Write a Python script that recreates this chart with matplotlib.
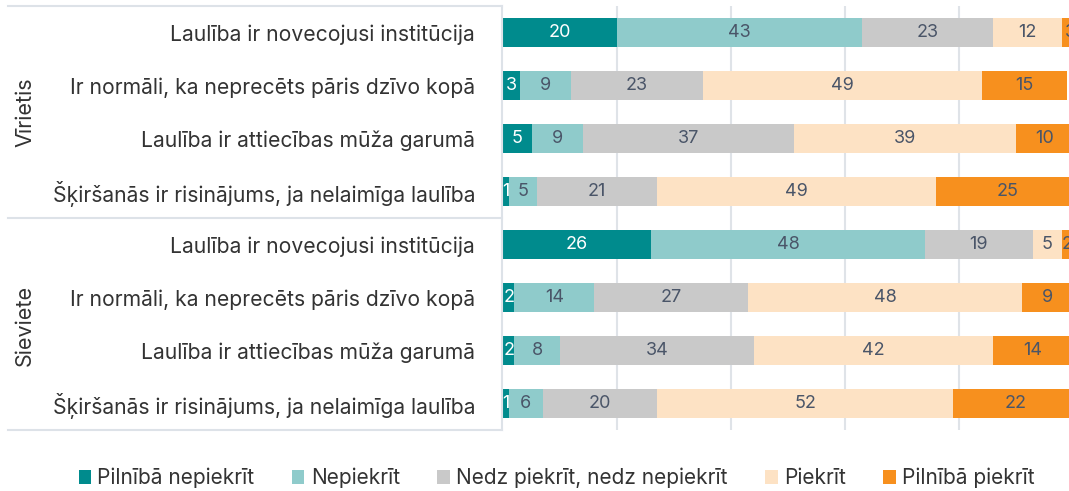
import matplotlib
matplotlib.use("Agg")
import matplotlib.pyplot as plt
from matplotlib.lines import Line2D
from matplotlib.patches import Patch
import numpy as np

plt.rcParams["font.family"] = ["Inter", "DejaVu Sans"]

statements = [
    "Laulība ir novecojusi institūcija",
    "Ir normāli, ka neprecēts pāris dzīvo kopā",
    "Laulība ir attiecības mūža garumā",
    "Šķiršanās ir risinājums, ja nelaimīga laulība",
]
groups = ["Vīrietis", "Sieviete"]
answers = ["Pilnībā nepiekrīt", "Nepiekrīt", "Nedz piekrīt, nedz nepiekrīt",
           "Piekrīt", "Pilnībā piekrīt"]

# rows: Vīrietis x4, then Sieviete x4
pilniba_nepiekrit = [20, 3, 5, 1, 26, 2, 2, 1]
nepiekrit = [43, 9, 9, 5, 48, 14, 8, 6]
nedz = [23, 23, 37, 21, 19, 27, 34, 20]
piekrit = [12, 49, 39, 49, 5, 48, 42, 52]
pilniba_piekrit = [3, 15, 10, 25, 2, 9, 14, 22]

series = [pilniba_nepiekrit, nepiekrit, nedz, piekrit, pilniba_piekrit]
colors = ["#008b8d", "#8fcbcb", "#c9c9c9", "#fde2c4", "#f7901e"]
text_colors = ["white", "#4a5568", "#4a5568", "#4a5568", "#4a5568"]

W, H = 1069, 491
fig = plt.figure(figsize=(W / 100, H / 100), dpi=100)
ax = fig.add_axes([503 / W, (H - 430) / H, 570 / W, 424 / H])

labels = statements * 2
y = np.arange(len(labels))
left = np.zeros(len(labels))
for vals, c, tc, name in zip(series, colors, text_colors, answers):
    vals = np.array(vals, dtype=float)
    ax.barh(y, vals, left=left, height=0.55, color=c, label=name, zorder=2)
    for yi, l, v in zip(y, left, vals):
        ax.text(l + v / 2, yi, f"{v:.0f}", ha="center", va="center",
                color=tc, fontsize=13, zorder=3, clip_on=True)
    left += vals

ax.set_xlim(0, 100)
ax.set_ylim(len(labels) - 0.5, -0.5)
ax.set_xticks([20, 40, 60, 80])
ax.set_xticklabels([])
ax.grid(axis="x", color="#dfe3e8", lw=1.5, zorder=0)
ax.tick_params(length=0)
ax.set_yticks(y)
ax.set_yticklabels(labels, fontsize=15.2, color="#333333")
ax.tick_params(axis="y", pad=20)
for s in ax.spines.values():
    s.set_visible(False)

# group box lines
lc = "#dde2e8"
def fx(px):
    return px / W
def fy(py):
    return (H - py) / H
for py in [6, 218, 430]:
    fig.add_artist(Line2D([fx(8), fx(502)], [fy(py), fy(py)], color=lc, lw=1.5))
fig.add_artist(Line2D([fx(502), fx(502)], [fy(6), fy(430)], color=lc, lw=1.5))
for g, py in zip(groups, [112, 325]):
    fig.text(fx(25), fy(py), g, rotation=90, ha="center", va="center",
             fontsize=15.5, color="#333333")

handles = [Patch(facecolor=c, label=a) for c, a in zip(colors, answers)]
fig.legend(handles=handles, loc="center", bbox_to_anchor=(0.5206, fy(478)),
           ncol=5, frameon=False, fontsize=15, handlelength=0.6, handleheight=0.6,
           handletextpad=0.3, columnspacing=1.8, labelcolor="#333333")

fig.savefig("out.png", dpi=100)
